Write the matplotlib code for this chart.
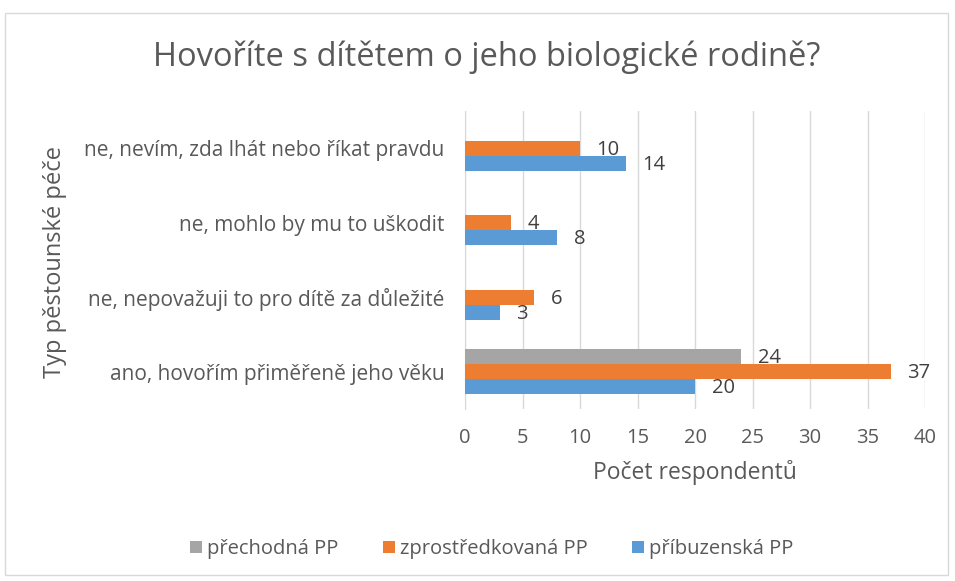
import matplotlib.pyplot as plt
from matplotlib.patches import Rectangle

plt.rcParams['font.family'] = ['Open Sans', 'DejaVu Sans']

categories = ['ano, hovořím přiměřeně jeho věku',
              'ne, nepovažuji to pro dítě za důležité',
              'ne, mohlo by mu to uškodit',
              'ne, nevím, zda lhát nebo říkat pravdu']
pribuzenska = [20, 3, 8, 14]
zprostredkovana = [37, 6, 4, 10]
prechodna = [24, 0, 0, 0]
series_names = ['příbuzenská PP', 'zprostředkovaná PP', 'přechodná PP']
colors = ['#5B9BD5', '#ED7D31', '#A5A5A5']
text_col = '#595959'

fig = plt.figure(figsize=(9.55, 5.81), dpi=100)
# border round the chart
fig.patches.append(Rectangle((5 / 955, 6 / 581), 943 / 955, 562 / 581,
                             transform=fig.transFigure, fill=False,
                             edgecolor='#D9D9D9', linewidth=1))

ax = fig.add_axes([465 / 955, 1 - 409 / 581, 460 / 955, 298 / 581])

h = 0.2
ys = list(range(len(categories)))
handles = []
for k, (vals, name, c) in enumerate(zip([pribuzenska, zprostredkovana, prechodna],
                                         series_names, colors)):
    pos = [y + (k - 1) * h for y in ys]
    b = ax.barh(pos, vals, height=h, color=c, label=name, zorder=3)
    handles.append(b)
    for p, v in zip(pos, vals):
        if v > 0:
            ax.annotate(str(v), (v, p), xytext=(12, -1), textcoords='offset points',
                        ha='left', va='center', fontsize=14.5, color='#404040')

ax.set_xlim(0, 40)
ax.set_ylim(-0.5, 3.5)
ax.set_xticks(range(0, 41, 5))
ax.set_yticks(ys)
ax.set_yticklabels(categories, fontsize=15)
ax.grid(axis='x', color='#D9D9D9', linewidth=1, zorder=0)
for s in ['top', 'right', 'bottom']:
    ax.spines[s].set_visible(False)
ax.spines['left'].set_color('#D9D9D9')
ax.tick_params(axis='both', length=0, labelcolor=text_col)
ax.tick_params(axis='x', pad=14, labelsize=14.5)
ax.tick_params(axis='y', pad=15)

ax.set_xlabel('Počet respondentů', fontsize=16.5, color=text_col, labelpad=8)
fig.text(55 / 955, 1 - 262 / 581, 'Typ pěstounské péče', rotation=90,
         ha='center', va='center', fontsize=17, color=text_col)
fig.text(487 / 955, 1 - 57 / 581, 'Hovoříte s dítětem o jeho biologické rodině?',
         ha='center', va='center', fontsize=23.5, color=text_col)

fig.legend(handles[::-1], series_names[::-1], loc='center', ncol=3,
           bbox_to_anchor=(492 / 955, 1 - 549 / 581), frameon=False,
           fontsize=14.5, labelcolor=text_col, handlelength=0.6, handleheight=0.6,
           handletextpad=0.25, columnspacing=2.2)

fig.savefig('out.png', dpi=100)
